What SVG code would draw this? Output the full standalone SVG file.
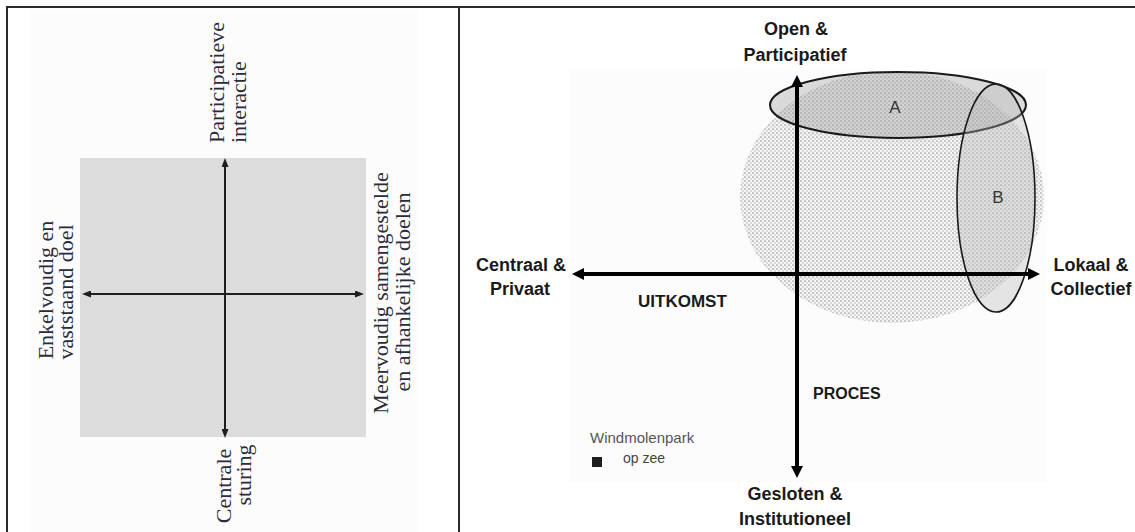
<svg xmlns="http://www.w3.org/2000/svg" width="1135" height="532" viewBox="0 0 1135 532">
<style>
.frame{stroke:#2a2a2a;stroke-width:2;fill:none}
.serif{font-family:"Liberation Serif","Times New Roman",serif;font-size:22px;fill:#2b2b3b}
.lbl{font-family:"Liberation Sans",Arial,sans-serif;font-weight:bold;font-size:18px;fill:#1a1a1a}
.thin{stroke:#1e1e1e;stroke-width:2;fill:none}
.thick{stroke:#000;stroke-width:4;fill:none}
</style>
<defs>
<pattern id="stip" width="4" height="4" patternUnits="userSpaceOnUse">
<rect width="4" height="4" fill="#f4f4f4"/>
<circle cx="1" cy="1" r="0.85" fill="#9c9c9c"/>
<circle cx="3" cy="3" r="0.75" fill="#b4b4b4"/>
</pattern>
<marker id="hs" viewBox="0 0 9 7" markerUnits="userSpaceOnUse" markerWidth="9" markerHeight="7" refX="0" refY="3.5" orient="auto-start-reverse">
<path d="M0,0 L9,3.5 L0,7 z" fill="#1e1e1e"/>
</marker>
<marker id="hb" viewBox="0 0 12 12" markerUnits="userSpaceOnUse" markerWidth="12" markerHeight="12" refX="0" refY="6" orient="auto-start-reverse">
<path d="M0,0 L12,6 L0,12 z" fill="#000"/>
</marker>
</defs>
<rect width="1135" height="532" fill="#fff"/>
<g id="table-frame">
<line class="frame" x1="6" y1="7" x2="1135" y2="7"/>
<line class="frame" x1="7" y1="6" x2="7" y2="532"/>
<line class="frame" x1="459" y1="6" x2="459" y2="532"/>
</g>
<g id="left-panel">
<rect x="30" y="11" width="388" height="521" fill="#fcfcfc"/>
<rect id="quadrant-field" x="80" y="158" width="286" height="279" fill="#dcdcdc"/>
</g>
<g id="right-background">
<rect x="569" y="71" width="478" height="411" fill="#fcfcfc"/>
<ellipse id="cloud" cx="892" cy="197" rx="152" ry="126" fill="url(#stip)"/>
</g>
<g id="node-A">
<ellipse cx="898" cy="105" rx="128" ry="33" fill="#8c8c8c" fill-opacity="0.3" stroke="#1a1a1a" stroke-width="2"/>
<text x="895" y="113" text-anchor="middle" font-family="Liberation Sans,Arial,sans-serif" font-size="17" fill="#333">A</text>
</g>
<g id="node-B">
<ellipse cx="996" cy="198" rx="39" ry="114" fill="#b8b8b8" fill-opacity="0.35" stroke="#1a1a1a" stroke-width="1.6"/>
<text x="998" y="203" text-anchor="middle" font-family="Liberation Sans,Arial,sans-serif" font-size="17" fill="#333">B</text>
</g>
<g id="connectors">
<line class="thin" x1="225" y1="167" x2="225" y2="429" marker-start="url(#hs)" marker-end="url(#hs)"/>
<line class="thin" x1="91" y1="294" x2="355" y2="294" marker-start="url(#hs)" marker-end="url(#hs)"/>
<line class="thick" x1="584" y1="274" x2="1028" y2="274" marker-start="url(#hb)" marker-end="url(#hb)"/>
<line class="thick" x1="797" y1="87" x2="797" y2="466" marker-start="url(#hb)" marker-end="url(#hb)"/>
</g>
<g id="left-labels">
<g id="label-top-left"><text class="serif" transform="translate(224,143) rotate(-90)">Participatieve</text><text class="serif" transform="translate(246,143) rotate(-90)">interactie</text></g>
<g id="label-left-left"><text class="serif" text-anchor="middle" transform="translate(53,290) rotate(-90)">Enkelvoudig en</text><text class="serif" text-anchor="middle" transform="translate(73,292) rotate(-90)">vaststaand doel</text></g>
<g id="label-right-left"><text class="serif" text-anchor="middle" transform="translate(388,293) rotate(-90)">Meervoudig samengestelde</text><text class="serif" text-anchor="middle" transform="translate(410,292) rotate(-90)">en afhankelijke doelen</text></g>
<g id="label-bottom-left"><text class="serif" text-anchor="middle" transform="translate(231,486) rotate(-90)">Centrale</text><text class="serif" text-anchor="middle" transform="translate(251,475) rotate(-90)">sturing</text></g>
</g>
<g id="right-labels">
<g id="label-open"><text class="lbl" x="796" y="35" text-anchor="middle">Open &amp;</text><text class="lbl" x="795" y="61" text-anchor="middle">Participatief</text></g>
<g id="label-centraal"><text class="lbl" x="521" y="271" text-anchor="middle">Centraal &amp;</text><text class="lbl" x="520" y="295" text-anchor="middle">Privaat</text></g>
<g id="label-lokaal"><text class="lbl" x="1091" y="271" text-anchor="middle">Lokaal &amp;</text><text class="lbl" x="1091" y="295" text-anchor="middle">Collectief</text></g>
<g id="label-gesloten"><text class="lbl" x="795" y="500" text-anchor="middle">Gesloten &amp;</text><text class="lbl" x="795" y="525" text-anchor="middle">Institutioneel</text></g>
<text id="label-uitkomst" class="lbl" x="638" y="307" style="font-size:17px">UITKOMST</text>
<text id="label-proces" class="lbl" x="813" y="399" style="font-size:16px">PROCES</text>
<g id="legend">
<text x="590" y="443" font-family="Liberation Sans,Arial,sans-serif" font-size="15" fill="#555">Windmolenpark</text>
<rect x="592" y="457" width="10" height="10" fill="#1e1e1e"/>
<text x="623" y="463" font-family="Liberation Sans,Arial,sans-serif" font-size="14" fill="#444">op zee</text>
</g>
</g>
</svg>
